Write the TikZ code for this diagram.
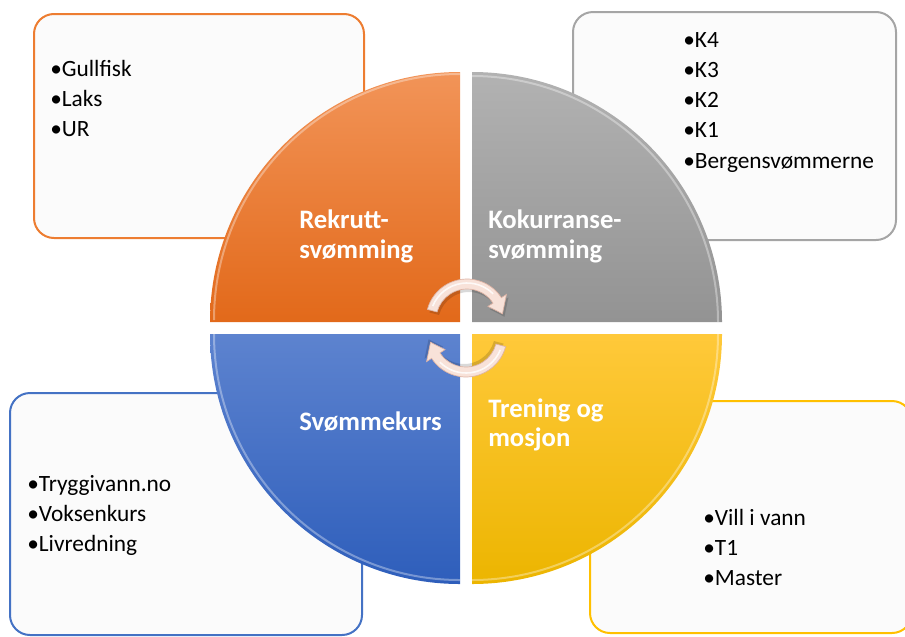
\documentclass[tikz,border=0pt]{standalone}
\usepackage{fontspec}
\setmainfont{Carlito}
\usetikzlibrary{calc}

\definecolor{boxfill}{HTML}{FBFBFB}
\definecolor{orLine}{HTML}{ED7D31}
\definecolor{grLine}{HTML}{A5A5A5}
\definecolor{blLine}{HTML}{4472C4}
\definecolor{yeLine}{HTML}{FFC000}
\definecolor{orTop}{HTML}{F29458}
\definecolor{orBot}{HTML}{E2691A}
\definecolor{grTop}{HTML}{B2B2B2}
\definecolor{grBot}{HTML}{939393}
\definecolor{blTop}{HTML}{5D83CF}
\definecolor{blBot}{HTML}{2E5EBB}
\definecolor{yeTop}{HTML}{FFC93A}
\definecolor{yeBot}{HTML}{ECB500}
\definecolor{arrFill}{HTML}{F8E2D9}
\definecolor{arrLine}{HTML}{DDB3A4}

\begin{document}
\begin{tikzpicture}[x=0.75pt,y=-0.75pt,
  listbox/.style={rounded corners=15pt, fill=boxfill, line width=1.5pt},
  item/.style={anchor=base west, inner sep=0pt, text=black,
    font=\fontsize{17.5}{21}\selectfont},
  qlabel/.style={anchor=base west, inner sep=0pt, text=white,
    font=\fontsize{20}{24}\selectfont\bfseries},
  bevel/.style={white, opacity=0.35, line width=1.5pt},
  cyc/.pic={
    % soft shadow under the arrow
    \fill[black, opacity=0.15, shift={(2,3)}]
      (-165:41) arc[start angle=-165, end angle=-33, radius=41]
      -- (-33:47) -- (-10:36) -- (-33:25) -- (-33:31)
      arc[start angle=-33, end angle=-165, radius=31] -- cycle;
    % curved arrow body with its head
    \fill[arrFill, draw=arrLine, line width=0.5pt]
      (-165:41) arc[start angle=-165, end angle=-33, radius=41]
      -- (-33:47) -- (-10:36) -- (-33:25) -- (-33:31)
      arc[start angle=-33, end angle=-165, radius=31] -- cycle;
    % highlight along the body
    \draw[white, line width=1.2pt, opacity=0.8]
      (-158:37) arc[start angle=-158, end angle=-45, radius=37];
  },
]
\clip (0,0) rectangle (905,636);

% list boxes behind the circle
\draw[listbox, draw=orLine] (34,14) rectangle (364,238);
\draw[listbox, draw=grLine] (573,12) rectangle (896,240);
\draw[listbox, draw=blLine] (10,393) rectangle (362,635);
\draw[listbox, draw=yeLine] (590,401) rectangle (912,633);

% four quarters of the circle
\shade[top color=orTop, bottom color=orBot]
  (460,322) -- (210,322) arc[start angle=180, end angle=270, radius=250] -- cycle;
\shade[top color=grTop, bottom color=grBot]
  (472,322) -- (472,72) arc[start angle=270, end angle=360, radius=250] -- cycle;
\shade[top color=blTop, bottom color=blBot]
  (460,334) -- (460,584) arc[start angle=90, end angle=180, radius=250] -- cycle;
\shade[top color=yeTop, bottom color=yeBot]
  (472,334) -- (722,334) arc[start angle=0, end angle=90, radius=250] -- cycle;

% bevel highlights along the rims
\draw[bevel] (214,320) arc[start angle=180, end angle=270, radius=246];
\draw[bevel] (472,76) arc[start angle=270, end angle=360, radius=246];
\draw[bevel] (460,580) arc[start angle=90, end angle=180, radius=246];
\draw[bevel] (718,334) arc[start angle=0, end angle=90, radius=246];

% quarter titles
\node[qlabel] (rek1) at (299,228) {Rekrutt-};
\node[qlabel] (rek2) at (299,258) {svømming};
\node[qlabel] (kok1) at (488,228) {Kokurranse-};
\node[qlabel] (kok2) at (488,258) {svømming};
\node[qlabel] (kurs) at (299,430) {Svømmekurs};
\node[qlabel] (tren1) at (488,417) {Trening og};
\node[qlabel] (tren2) at (488,446) {mosjon};

% cycle arrows in the middle
\pic (arrTop) at (467,320) {cyc};
\pic[rotate=180] (arrBot) at (466,336) {cyc};

% list items
\node[item] (o1) at (50,76) {•Gullfisk};
\node[item] (o2) at (50,106) {•Laks};
\node[item] (o3) at (50,136) {•UR};

\node[item] (g1) at (683,47) {•K4};
\node[item] (g2) at (683,77) {•K3};
\node[item] (g3) at (683,107) {•K2};
\node[item] (g4) at (683,137.5) {•K1};
\node[item] (g5) at (683,168) {•Bergensvømmerne};

\node[item] (b1) at (27,491) {•Tryggivann.no};
\node[item] (b2) at (27,521) {•Voksenkurs};
\node[item] (b3) at (27,551) {•Livredning};

\node[item] (y1) at (703,525) {•Vill i vann};
\node[item] (y2) at (703,555) {•T1};
\node[item] (y3) at (703,585) {•Master};
\end{tikzpicture}
\end{document}
